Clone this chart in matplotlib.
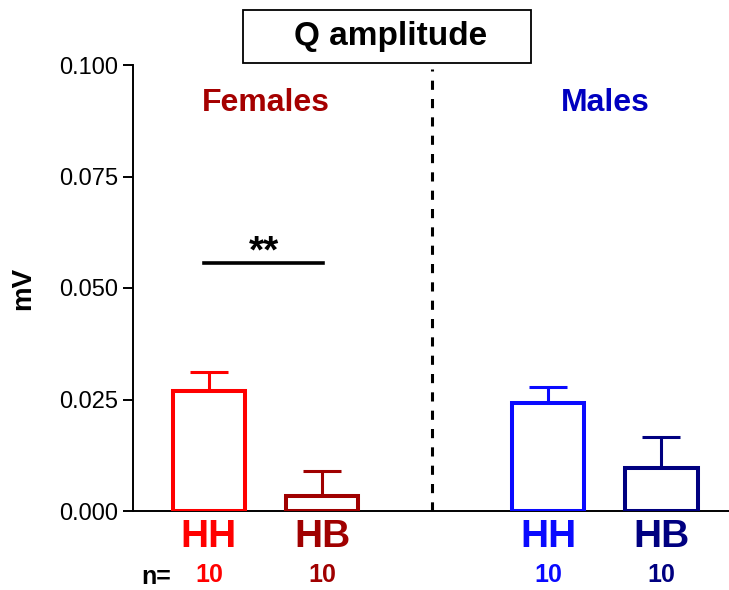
import numpy as np
import matplotlib.pyplot as plt
from matplotlib.patches import Rectangle

plt.rcParams['font.family'] = ['Liberation Sans', 'DejaVu Sans']

groups = ['HH', 'HB', 'HH', 'HB']
positions = [0, 1, 3, 4]
means = [0.0269, 0.0034, 0.0242, 0.0096]
sems = [0.0043, 0.0056, 0.0035, 0.0071]
n_counts = [10, 10, 10, 10]
colors = ['#FF0000', '#A00000', '#0A0AFF', '#000080']
sex_labels = ['Females', 'Males']
sex_centers = [0.5, 3.5]
sex_colors = ['#A50000', '#0000C0']
yticks = [0.0, 0.025, 0.05, 0.075, 0.1]
sig_text = '**'
sig_y = 0.0556
sig_span = [-0.04, 1.01]
divider_x = 1.97

fig = plt.figure(figsize=(7.29, 5.90), dpi=100)
ax = fig.add_axes([133/729, 79/590, 596/729, 446/590])

for x, m, s, c in zip(positions, means, sems, colors):
    ax.errorbar(x, m, yerr=[[0], [s]], color=c, lw=2.2, capsize=14,
                capthick=2.2, zorder=2)
    ax.bar(x, m, width=0.64, facecolor='white', edgecolor=c,
           linewidth=2.9, zorder=3)

ax.set_xlim(-0.672, 4.598)
ax.set_ylim(0, 0.1)
ax.spines['top'].set_visible(False)
ax.spines['right'].set_visible(False)
ax.spines['left'].set_linewidth(1.4)
ax.spines['bottom'].set_linewidth(1.4)

ax.set_yticks(yticks)
ax.set_yticklabels(['%.3f' % t for t in yticks])
ax.tick_params(axis='y', labelsize=17, length=7, width=1.4, pad=3.5)
ax.set_xticks(positions)
ax.set_xticklabels(groups, fontsize=28, fontweight='bold')
ax.tick_params(axis='x', length=0, pad=6)
for lab, c in zip(ax.get_xticklabels(), colors):
    lab.set_color(c)

ax.set_ylabel('mV', fontsize=20, fontweight='bold')
ax.yaxis.set_label_coords(-0.162, 0.5)

# n per group under the tick labels
trans = ax.get_xaxis_transform()
ax.text(-0.47, -0.148, 'n=', transform=trans, ha='center', va='center',
        fontsize=18, fontweight='bold', color='black')
for x, n, c in zip(positions, n_counts, colors):
    ax.text(x, -0.143, str(n), transform=trans, ha='center', va='center',
            fontsize=18, fontweight='bold', color=c)

# group headers
for x, lab, c in zip(sex_centers, sex_labels, sex_colors):
    ax.text(x, 0.915, lab, transform=trans, ha='center', va='center',
            fontsize=23, fontweight='bold', color=c)

# divider between females and males
ax.axvline(divider_x, ymin=0, ymax=0.99, color='black', lw=2.2,
           linestyle=(0, (3, 3)), zorder=1)

# significance bar
ax.plot(sig_span, [sig_y, sig_y], color='black', lw=2.6)
ax.text(np.mean(sig_span), sig_y + 0.0063, sig_text, ha='center', va='top',
        fontsize=28, fontweight='bold')

# boxed title
fig.patches.append(Rectangle((242.7/729, 1 - 63/590), 288/729, 53/590,
                             transform=fig.transFigure, facecolor='white',
                             edgecolor='black', lw=1.3))
fig.text(391/729, 1 - 37/590, 'Q amplitude', ha='center', va='center',
         fontsize=24, fontweight='bold')

fig.savefig('out.png', dpi=100)
